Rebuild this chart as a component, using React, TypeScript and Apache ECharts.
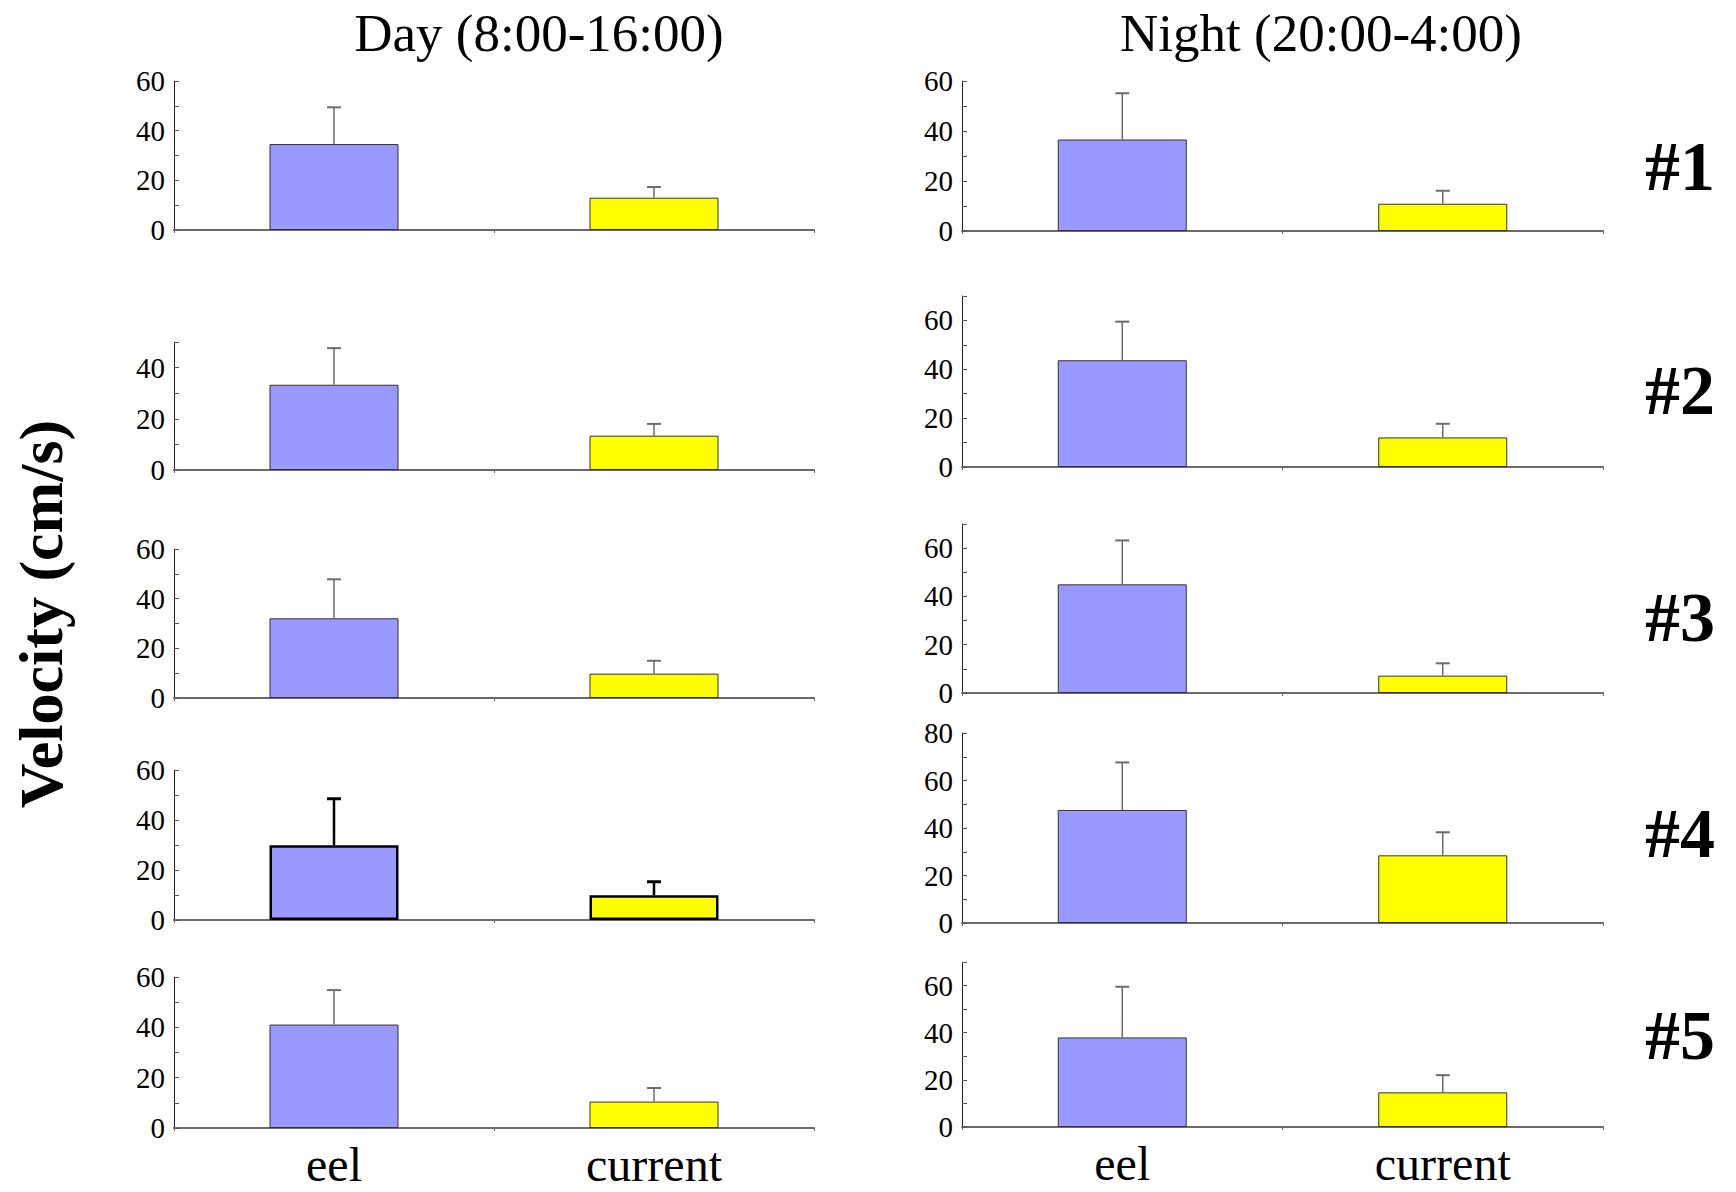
import React, { useEffect, useRef } from "react";
import * as echarts from "echarts";

const categories = ["eel", "current"];
const rowLabels = ["#1", "#2", "#3", "#4", "#5"];
const columnTitles = ["Day (8:00-16:00)", "Night (20:00-4:00)"];

const dayEel = [34.6, 33.3, 32.1, 29.9, 41.1];
const dayEelSd = [14.8, 14.3, 15.7, 18.6, 13.7];
const dayCurrent = [13.0, 13.4, 9.8, 9.9, 10.5];
const dayCurrentSd = [4.3, 4.6, 5.2, 5.4, 5.4];

const nightEel = [36.6, 43.7, 45.0, 47.6, 38.0];
const nightEelSd = [18.5, 15.8, 18.2, 20.0, 21.5];
const nightCurrent = [10.9, 12.1, 7.2, 28.5, 14.7];
const nightCurrentSd = [5.2, 5.6, 5.1, 9.7, 7.3];

const dayMax = [60, 50, 60, 60, 60];
const nightMax = [60, 70, 70, 80, 70];

// layout (pixels)
const dayLeft = 174;
const dayWidth = 640;
const nightLeft = 962;
const nightWidth = 641;
const dayTop = [81, 342, 549, 770, 977];
const dayBottomY = [230, 470, 698, 920, 1128];
const nightTop = [81, 296, 524, 733, 962];
const nightBottomY = [231, 467, 693, 923, 1127];
const rowLabelY = [166, 390, 617, 833, 1035];

const SERIF = "'Liberation Serif', 'Times New Roman', serif";
const BLUE = "#9999ff";
const YELLOW = "#ffff00";

export default function App() {
  const ref = useRef<HTMLDivElement>(null);

  useEffect(() => {
    if (!ref.current) return;
    const chart = echarts.init(ref.current, undefined, { renderer: "svg" });

    const grids: any[] = [];
    const xAxes: any[] = [];
    const yAxes: any[] = [];
    const series: any[] = [];

    const addPanel = (
      left: number,
      width: number,
      top: number,
      bottomY: number,
      max: number,
      eel: number,
      eelSd: number,
      cur: number,
      curSd: number,
      showX: boolean,
      heavy: boolean
    ) => {
      const idx = grids.length;
      grids.push({ left, top, width, height: bottomY - top, containLabel: false });
      xAxes.push({
        type: "category",
        gridIndex: idx,
        data: categories,
        axisLine: { show: true, lineStyle: { color: "#6a6a6a", width: 2 } },
        axisTick: { show: true, length: 3, lineStyle: { color: "#6a6a6a", width: 1 } },
        axisLabel: {
          show: showX,
          color: "#000",
          fontFamily: SERIF,
          fontSize: 48,
          margin: 12,
        },
        splitLine: { show: false },
      });
      yAxes.push({
        type: "value",
        gridIndex: idx,
        min: 0,
        max,
        interval: 10,
        axisLine: { show: true, lineStyle: { color: "#222", width: 1 } },
        axisTick: { show: true, inside: true, length: 5, lineStyle: { color: "#555", width: 1 } },
        axisLabel: {
          color: "#000",
          fontFamily: SERIF,
          fontSize: 29,
          margin: 9,
          formatter: (v: number) => (v % 20 === 0 ? String(v) : ""),
        },
        splitLine: { show: false },
      });
      const borderColor = heavy ? "#000" : "#333";
      const borderWidth = heavy ? 2.5 : 1;
      series.push({
        type: "bar",
        xAxisIndex: idx,
        yAxisIndex: idx,
        barWidth: 129,
        data: [
          { value: eel, itemStyle: { color: BLUE, borderColor, borderWidth } },
          { value: cur, itemStyle: { color: YELLOW, borderColor, borderWidth } },
        ],
        z: 2,
      });
      const errColor = heavy ? "#000" : "#6b6b6b";
      const errWidth = heavy ? 2.5 : 1.5;
      series.push({
        type: "custom",
        xAxisIndex: idx,
        yAxisIndex: idx,
        z: 3,
        encode: { x: 0, y: 1 },
        data: [
          [0, eel, eelSd],
          [1, cur, curSd],
        ],
        renderItem: (_params: any, api: any) => {
          const i = api.value(0);
          const v = api.value(1);
          const e = api.value(2);
          const p0 = api.coord([i, v]);
          const p1 = api.coord([i, v + e]);
          const hw = 7;
          const style = { stroke: errColor, lineWidth: errWidth };
          return {
            type: "group",
            children: [
              { type: "line", shape: { x1: p0[0], y1: p0[1], x2: p1[0], y2: p1[1] }, style },
              { type: "line", shape: { x1: p1[0] - hw, y1: p1[1], x2: p1[0] + hw, y2: p1[1] }, style: { stroke: errColor, lineWidth: errWidth + 0.5 } },
            ],
          };
        },
      });
    };

    for (let r = 0; r < 5; r++) {
      addPanel(dayLeft, dayWidth, dayTop[r], dayBottomY[r], dayMax[r], dayEel[r], dayEelSd[r], dayCurrent[r], dayCurrentSd[r], r === 4, r === 3);
      addPanel(nightLeft, nightWidth, nightTop[r], nightBottomY[r], nightMax[r], nightEel[r], nightEelSd[r], nightCurrent[r], nightCurrentSd[r], r === 4, false);
    }

    const graphics: any[] = [
      {
        type: "text",
        x: 539,
        y: 33,
        style: { text: columnTitles[0], fontFamily: SERIF, fontSize: 53, fill: "#000", align: "center", verticalAlign: "middle" },
      },
      {
        type: "text",
        x: 1321,
        y: 33,
        style: { text: columnTitles[1], fontFamily: SERIF, fontSize: 53, fill: "#000", align: "center", verticalAlign: "middle" },
      },
      {
        type: "text",
        x: 41,
        y: 614,
        rotation: Math.PI / 2,
        style: { text: "Velocity (cm/s)", fontFamily: SERIF, fontSize: 62, fontWeight: "bold", fill: "#000", align: "center", verticalAlign: "middle" },
      },
    ];
    rowLabels.forEach((t, i) => {
      graphics.push({
        type: "text",
        x: 1680,
        y: rowLabelY[i],
        style: { text: t, fontFamily: SERIF, fontSize: 70, fontWeight: "bold", fill: "#000", align: "center", verticalAlign: "middle" },
      });
    });

    chart.setOption({
      animation: false,
      backgroundColor: "#fff",
      textStyle: { fontFamily: SERIF },
      grid: grids,
      xAxis: xAxes,
      yAxis: yAxes,
      series,
      graphic: graphics,
    });

    return () => chart.dispose();
  }, []);

  return (
    <div
      ref={ref}
      style={{ position: "absolute", left: 0, top: 0, width: 1736, height: 1192, background: "#fff" }}
    />
  );
}
